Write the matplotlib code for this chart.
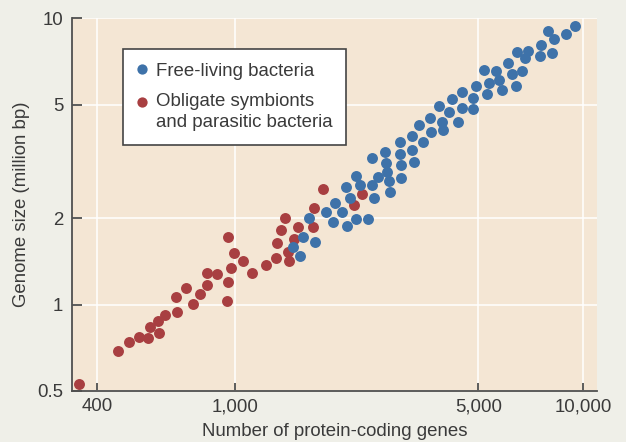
import matplotlib
matplotlib.use("Agg")
import matplotlib.pyplot as plt
import matplotlib.transforms as mtransforms
from matplotlib.lines import Line2D
from matplotlib.legend_handler import HandlerLine2D
from matplotlib.ticker import FixedLocator, FixedFormatter, NullLocator

plt.rcParams["font.family"] = ["Liberation Sans", "DejaVu Sans"]

# Free-living bacteria: number of protein-coding genes, genome size (Mb)
free_genes = [9489, 7917, 8923, 8255, 7545, 8116, 7497, 6464, 6952, 6789,
              6078, 6668, 6241, 5603, 5194, 5715, 5349, 4917, 5853, 6421,
              5300, 4491, 4831, 4187, 4482, 4812, 3857, 4114, 3627, 3926,
              4365, 3379, 3953, 3658, 3214, 2974, 3456, 3214, 2974, 3263,
              2693, 2705, 2988, 2471, 2724, 2566, 2760, 2994, 2775, 2508,
              2471, 2282, 2218, 2143, 2080, 2406, 2222, 2094, 2026, 1938,
              1905, 1826, 1625, 1689, 1565, 1465, 1534]
free_size = [9.415, 9.066, 8.807, 8.459, 8.080, 7.593, 7.376, 7.636, 7.717, 7.295,
             6.972, 6.570, 6.413, 6.570, 6.607, 6.081, 5.951, 5.822, 5.625, 5.809,
             5.434, 5.549, 5.273, 5.244, 4.878, 4.828, 4.946, 4.712, 4.501, 4.347,
             4.347, 4.234, 4.087, 4.012, 3.885, 3.711, 3.701, 3.462, 3.360, 3.150,
             3.415, 3.133, 3.075, 3.253, 2.900, 2.793, 2.694, 2.770, 2.481, 2.352,
             2.608, 2.608, 2.808, 2.363, 2.570, 1.991, 1.991, 1.882, 2.112, 2.260,
             1.951, 2.102, 2.015, 1.659, 1.723, 1.594, 1.484]

# Obligate symbionts and parasitic bacteria
sym_genes = [356, 461, 496, 528, 562, 567, 598, 605, 629, 679,
             674, 723, 754, 793, 828, 828, 888, 946, 951, 972,
             954, 991, 1050, 1114, 1223, 1306, 1427, 1414, 1322, 1356,
             1385, 1477, 1514, 1669, 1686, 1786, 2200, 2308]
sym_size = [0.5285, 0.6899, 0.7383, 0.7724, 0.7625, 0.8369, 0.8783, 0.7974, 0.9196, 0.9443,
            1.0656, 1.1429, 1.0023, 1.0916, 1.1681, 1.2925, 1.2823, 1.0318, 1.2023, 1.3392,
            1.7191, 1.5184, 1.4237, 1.2893, 1.3760, 1.4526, 1.4204, 1.5208, 1.6378, 1.8155,
            1.9994, 1.6982, 1.8600, 1.8629, 2.1816, 2.5293, 2.2349, 2.4355]

x_ticks = [400, 1000, 5000, 10000]
x_tick_labels = ["400", "1,000", "5,000", "10,000"]
y_ticks = [0.5, 1, 2, 5, 10]
y_tick_labels = ["0.5", "1", "2", "5", "10"]

free_label = "Free-living bacteria"
sym_label = "Obligate symbionts\nand parasitic bacteria"

BLUE = "#3e72a9"
RED = "#a83f41"
FIG_BG = "#efefe8"
AX_BG = "#f4e6d4"
INK = "#3a3a3a"
SPINE = "#505050"
FS = 13.4

fig = plt.figure(figsize=(6.26, 4.42), dpi=100, facecolor=FIG_BG)
ax = fig.add_axes([0.1145, 0.1161, 0.8392, 0.8421])
ax.set_facecolor(AX_BG)

ax.set_xscale("log")
ax.set_yscale("log")
ax.set_xlim(338.6, 10955)
ax.set_ylim(0.5, 10)

ax.scatter(sym_genes, sym_size, s=62, color=RED, linewidths=0, zorder=3)
ax.scatter(free_genes, free_size, s=62, color=BLUE, linewidths=0, zorder=3)

ax.xaxis.set_major_locator(FixedLocator(x_ticks))
ax.xaxis.set_major_formatter(FixedFormatter(x_tick_labels))
ax.xaxis.set_minor_locator(NullLocator())
ax.yaxis.set_major_locator(FixedLocator(y_ticks))
ax.yaxis.set_major_formatter(FixedFormatter(y_tick_labels))
ax.yaxis.set_minor_locator(NullLocator())

ax.grid(True, color="white", linewidth=1.1, zorder=1)
ax.set_axisbelow(True)

for side in ("top", "right"):
    ax.spines[side].set_visible(False)
for side in ("left", "bottom"):
    ax.spines[side].set_color(SPINE)
    ax.spines[side].set_linewidth(1.3)

ax.tick_params(axis="x", direction="in", length=5.5, width=1.3, color=SPINE,
               labelsize=FS, labelcolor=INK, pad=5.5)
ax.tick_params(axis="y", direction="in", length=7, width=1.3, color=SPINE,
               labelsize=FS, labelcolor=INK, pad=6)

ax.set_xlabel("Number of protein-coding genes", fontsize=FS, color=INK, labelpad=5.5)
ax.set_ylabel("Genome size (million bp)", fontsize=FS, color=INK, labelpad=5)


class RaisedMarker(HandlerLine2D):
    """Marker handler that sits beside the first line of a two-line label."""

    def __init__(self, lift, **kw):
        super().__init__(**kw)
        self.lift = lift

    def create_artists(self, legend, orig_handle, xdescent, ydescent,
                       width, height, fontsize, trans):
        shifted = mtransforms.Affine2D().translate(0, self.lift) + trans
        return super().create_artists(legend, orig_handle, xdescent, ydescent,
                                      width, height, fontsize, shifted)


h_free = Line2D([], [], linestyle="none", marker="o", markersize=7.4,
                markerfacecolor=BLUE, markeredgewidth=0)
h_sym = Line2D([], [], linestyle="none", marker="o", markersize=7.4,
               markerfacecolor=RED, markeredgewidth=0)

leg = ax.legend([h_free, h_sym], [free_label, sym_label],
                handler_map={h_sym: RaisedMarker(7.45)},
                loc="upper left", bbox_to_anchor=(0.0982, 0.918),
                borderaxespad=0, fontsize=FS, frameon=True, fancybox=False,
                edgecolor="#444444", facecolor="white", framealpha=1,
                handlelength=0.54, handletextpad=0.45, borderpad=0.75,
                labelspacing=0.72)
leg.get_frame().set_linewidth(1.2)
for t in leg.get_texts():
    t.set_color(INK)
    t.set_linespacing(1.25)
leg.set_zorder(5)

fig.savefig("out.png", dpi=100, facecolor=FIG_BG)
